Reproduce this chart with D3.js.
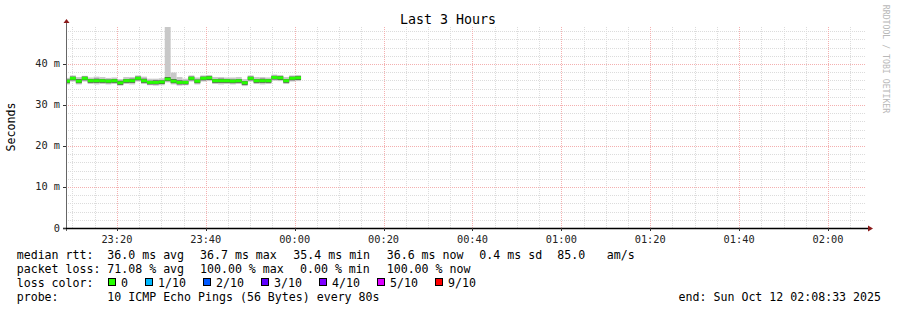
<!DOCTYPE HTML>
<html>

<head>
    <script src="https://d3js.org/d3.v7.min.js"></script>
</head>
<style type="text/css">
    body {
        margin: 0;
        background: #fff;
    }

    text {
        font-family: "DejaVu Sans Mono", monospace;
    }
</style>

<body>
    <div id="chart"></div>
    <script>
        // rtt per 80s step, in ms
        var firstStep = "2025-10-11T23:08:06Z";
        var graphStart = "2025-10-11T23:08:33Z";
        var graphEnd = "2025-10-12T02:08:33Z";
        var stepSeconds = 80;

        var median = [35.8, 36.5, 35.8, 36.5, 35.9, 35.9, 35.9, 35.8, 35.9, 35.4,
            35.9, 35.9, 36.5, 35.9, 35.5, 35.5, 35.6, 36.3, 35.8, 35.5,
            35.5, 36.5, 35.8, 36.5, 36.6, 35.9, 35.9, 35.9, 35.8, 35.9,
            35.4, 36.5, 35.9, 35.9, 35.9, 36.7, 36.6, 35.9, 36.5, 36.6];
        var smokeMax = [36.6, 37.2, 36.8, 37.1, 36.7, 36.9, 36.8, 36.6, 36.7, 36.3,
            36.8, 36.8, 37.2, 36.9, 36.4, 36.4, 36.5, 52.0, 37.9, 36.8,
            36.4, 37.2, 36.7, 37.2, 37.3, 36.8, 36.8, 36.7, 36.7, 36.8,
            36.3, 37.2, 36.8, 36.8, 36.7, 37.4, 37.3, 36.8, 37.2, 37.3];
        var smokeMin = [35.0, 35.7, 35.0, 35.7, 35.1, 35.0, 35.1, 35.0, 35.1, 34.7,
            35.1, 35.0, 35.7, 35.1, 34.8, 34.7, 34.8, 35.5, 35.0, 34.7,
            34.8, 35.7, 35.0, 35.7, 35.8, 35.1, 35.0, 35.1, 35.0, 35.1,
            34.6, 35.7, 35.1, 35.0, 35.1, 35.9, 35.8, 35.1, 35.7, 35.8];
        var innerHi = [36.2, 36.9, 36.3, 36.9, 36.3, 36.4, 36.3, 36.2, 36.3, 35.9,
            36.3, 36.4, 36.9, 36.4, 35.9, 36.0, 36.0, 36.8, 36.3, 36.0,
            35.9, 36.9, 36.2, 36.9, 37.0, 36.3, 36.4, 36.3, 36.2, 36.3,
            35.8, 36.9, 36.3, 36.4, 36.3, 37.1, 37.0, 36.3, 36.9, 37.0];
        var innerLo = [35.3, 36.0, 35.3, 36.0, 35.4, 35.4, 35.4, 35.3, 35.4, 34.9,
            35.4, 35.4, 36.0, 35.4, 35.0, 35.0, 35.1, 35.8, 35.3, 35.0,
            35.0, 36.0, 35.3, 36.0, 36.1, 35.4, 35.4, 35.4, 35.3, 35.4,
            34.9, 36.0, 35.4, 35.4, 35.4, 36.2, 36.1, 35.4, 36.0, 36.1];
        // losses per step (out of 10 pings)
        var loss = [0, 0, 0, 0, 0, 0, 0, 0, 0, 0, 0, 0, 0, 0, 0, 0, 0, 0, 0, 0,
            0, 0, 0, 0, 0, 0, 0, 0, 0, 0, 0, 0, 0, 0, 0, 0, 0, 0, 0, 0];

        var yTicks = [0, 10, 20, 30, 40];
        var lossLabels = ["0", "1/10", "2/10", "3/10", "4/10", "5/10", "9/10"];
        var lossColors = ["#26ff00", "#00b8ff", "#0059ff", "#5e00ff", "#7e00ff", "#dd00ff", "#ff0000"];
        var lossLevels = [0, 1, 2, 3, 4, 5, 9];

        var rttLine = ["median rtt:", "36.0 ms avg", "36.7 ms max", "35.4 ms min", "36.6 ms now", "0.4 ms sd", "85.0", "am/s"];
        var lossLine = ["packet loss:", "71.08 % avg", "100.00 % max", "0.00 % min", "100.00 % now"];
        var probeLine = ["probe:", "10 ICMP Echo Pings (56 Bytes) every 80s"];
        var endText = "end: Sun Oct 12 02:08:33 2025";

        var width = 897, height = 310;
        var pL = 66, pR = 866, pT = 27, pB = 228;

        var svg = d3.select("#chart").append("svg")
            .attr("width", width)
            .attr("height", height);

        var parse = d3.utcParse("%Y-%m-%dT%H:%M:%SZ");
        var t0 = parse(firstStep);
        var x = d3.scaleUtc()
            .domain([parse(graphStart), parse(graphEnd)])
            .range([pL, pR]);
        var y = d3.scaleLinear()
            .domain([0, 49])
            .range([pB, pT]);

        function px(v) { return Math.round(v) + 0.5; }

        // grid
        var grid = svg.append("g");
        var minorY = d3.range(0, 49, 2).filter(function (v) { return v % 10 != 0; });
        grid.selectAll(".hminor").data(minorY).enter().append("line")
            .attr("x1", pL).attr("x2", pR)
            .attr("y1", function (d) { return px(y(d)); })
            .attr("y2", function (d) { return px(y(d)); })
            .attr("stroke", "#dcdcdc").attr("stroke-dasharray", "1,1");
        var minorX = d3.utcMinute.every(5).range(x.domain()[0], x.domain()[1])
            .filter(function (d) { return d.getUTCMinutes() % 20 != 0; });
        grid.selectAll(".vminor").data(minorX).enter().append("line")
            .attr("x1", function (d) { return px(x(d)); })
            .attr("x2", function (d) { return px(x(d)); })
            .attr("y1", pT).attr("y2", pB)
            .attr("stroke", "#dcdcdc").attr("stroke-dasharray", "1,1");
        grid.selectAll(".hmajor").data(yTicks.slice(1)).enter().append("line")
            .attr("x1", pL).attr("x2", pR)
            .attr("y1", function (d) { return px(y(d)); })
            .attr("y2", function (d) { return px(y(d)); })
            .attr("stroke", "#f4b0b0").attr("stroke-dasharray", "1,1");
        var majorX = d3.utcMinute.every(20).range(x.domain()[0], x.domain()[1]);
        grid.selectAll(".vmajor").data(majorX).enter().append("line")
            .attr("x1", function (d) { return px(x(d)); })
            .attr("x2", function (d) { return px(x(d)); })
            .attr("y1", pT).attr("y2", pB)
            .attr("stroke", "#f4b0b0").attr("stroke-dasharray", "1,1");

        // smoke + median
        svg.append("clipPath").attr("id", "plotclip").append("rect")
            .attr("x", pL + 1).attr("y", pT).attr("width", pR - pL).attr("height", pB - pT);
        var g = svg.append("g").attr("clip-path", "url(#plotclip)");
        var steps = median.map(function (m, i) {
            return {
                t: d3.utcSecond.offset(t0, i * stepSeconds),
                t1: d3.utcSecond.offset(t0, (i + 1) * stepSeconds),
                med: m, min: smokeMin[i], max: smokeMax[i], lo: innerLo[i], hi: innerHi[i], loss: loss[i]
            };
        });
        g.selectAll(".outer").data(steps).enter().append("rect")
            .attr("x", function (d) { return x(d.t); })
            .attr("width", function (d) { return x(d.t1) - x(d.t); })
            .attr("y", function (d) { return y(d.max); })
            .attr("height", function (d) { return y(d.min) - y(d.max); })
            .attr("fill", "#c8c8c8");
        g.selectAll(".inner").data(steps).enter().append("rect")
            .attr("x", function (d) { return x(d.t); })
            .attr("width", function (d) { return x(d.t1) - x(d.t); })
            .attr("y", function (d) { return y(d.hi); })
            .attr("height", function (d) { return y(d.lo) - y(d.hi); })
            .attr("fill", "#505050");
        g.selectAll(".med").data(steps).enter().append("rect")
            .attr("x", function (d) { return x(d.t); })
            .attr("width", function (d) { return x(d.t1) - x(d.t); })
            .attr("y", function (d) { return y(d.med) - 1.5; })
            .attr("height", 3)
            .attr("fill", function (d) { return lossColors[lossLevels.indexOf(d.loss)]; });

        // axes
        var axisColor = "#333";
        svg.append("line").attr("x1", px(pL)).attr("x2", px(pL))
            .attr("y1", pB + 3).attr("y2", pT - 5).attr("stroke", "#666");
        svg.append("line").attr("x1", pL - 3).attr("x2", pR + 3)
            .attr("y1", pB + 0.5).attr("y2", pB + 0.5).attr("stroke", "#000").attr("stroke-width", 1.4);
        svg.append("path")
            .attr("d", "M" + (px(pL) - 3) + "," + (pT - 4) + "L" + px(pL) + "," + (pT - 8) + "L" + (px(pL) + 3) + "," + (pT - 4) + "Z")
            .attr("fill", "#8b1a1a");
        svg.append("path")
            .attr("d", "M" + (pR + 2) + "," + (pB - 2.5) + "L" + (pR + 7) + "," + (pB + 0.5) + "L" + (pR + 2) + "," + (pB + 3.5) + "Z")
            .attr("fill", "#8b1a1a");

        // axis ticks
        svg.selectAll(".ytick").data(yTicks).enter().append("line")
            .attr("x1", pL - 3).attr("x2", pL)
            .attr("y1", function (d) { return px(y(d)); })
            .attr("y2", function (d) { return px(y(d)); })
            .attr("stroke", axisColor);
        svg.selectAll(".xtick").data(majorX).enter().append("line")
            .attr("x1", function (d) { return px(x(d)); })
            .attr("x2", function (d) { return px(x(d)); })
            .attr("y1", pB).attr("y2", pB + 3)
            .attr("stroke", axisColor);

        // tick labels
        svg.selectAll(".ylab").data(yTicks).enter().append("text")
            .attr("x", 60)
            .attr("y", function (d) { return y(d) + 3.5; })
            .attr("text-anchor", "end")
            .attr("font-size", "10.3px")
            .attr("fill", "#222")
            .text(function (d) { return d == 0 ? "0" : d + " m"; });
        var fmt = d3.utcFormat("%H:%M");
        svg.selectAll(".xlab").data(majorX).enter().append("text")
            .attr("x", function (d) { return x(d); })
            .attr("y", 242.5)
            .attr("text-anchor", "middle")
            .attr("font-size", "10.3px")
            .attr("fill", "#222")
            .text(function (d) { return fmt(d); });

        // titles
        svg.append("text").attr("x", 448).attr("y", 24)
            .attr("text-anchor", "middle").attr("font-size", "13.3px")
            .text("Last 3 Hours");
        svg.append("text")
            .attr("transform", "translate(15,127) rotate(-90)")
            .attr("text-anchor", "middle").attr("font-size", "11.6px")
            .text("Seconds");
        svg.append("text")
            .attr("transform", "translate(883,59) rotate(90)")
            .attr("text-anchor", "middle").attr("font-size", "8.2px")
            .attr("fill", "#b8b8b8")
            .text("RRDTOOL / TOBI OETIKER");

        // legend
        var lg = svg.append("g").attr("font-size", "11.6px").attr("fill", "#000");
        var rttX = [16.7, 107.3, 200, 293.3, 386.7, 479.3, 557.3, 606.7];
        var lossX = [16.7, 107.3, 200, 300, 386.7];
        rttLine.forEach(function (s, i) {
            lg.append("text").attr("x", rttX[i]).attr("y", 259).text(s);
        });
        lossLine.forEach(function (s, i) {
            lg.append("text").attr("x", lossX[i]).attr("y", 273).text(s);
        });
        lg.append("text").attr("x", 16.7).attr("y", 287).text("loss color:");
        var bx = 108;
        lossLabels.forEach(function (s, i) {
            lg.append("rect").attr("x", bx + 0.5).attr("y", 278.5).attr("width", 7).attr("height", 7)
                .attr("fill", lossColors[i]).attr("stroke", "#000");
            lg.append("text").attr("x", bx + 13).attr("y", 287).text(s);
            bx = bx + 13 + s.length * 7 + 17;
        });
        lg.append("text").attr("x", 16.7).attr("y", 301).text(probeLine[0]);
        lg.append("text").attr("x", 107.3).attr("y", 301).text(probeLine[1]);
        lg.append("text").attr("x", 881).attr("y", 301).attr("text-anchor", "end").text(endText);
    </script>
</body>

</html>
